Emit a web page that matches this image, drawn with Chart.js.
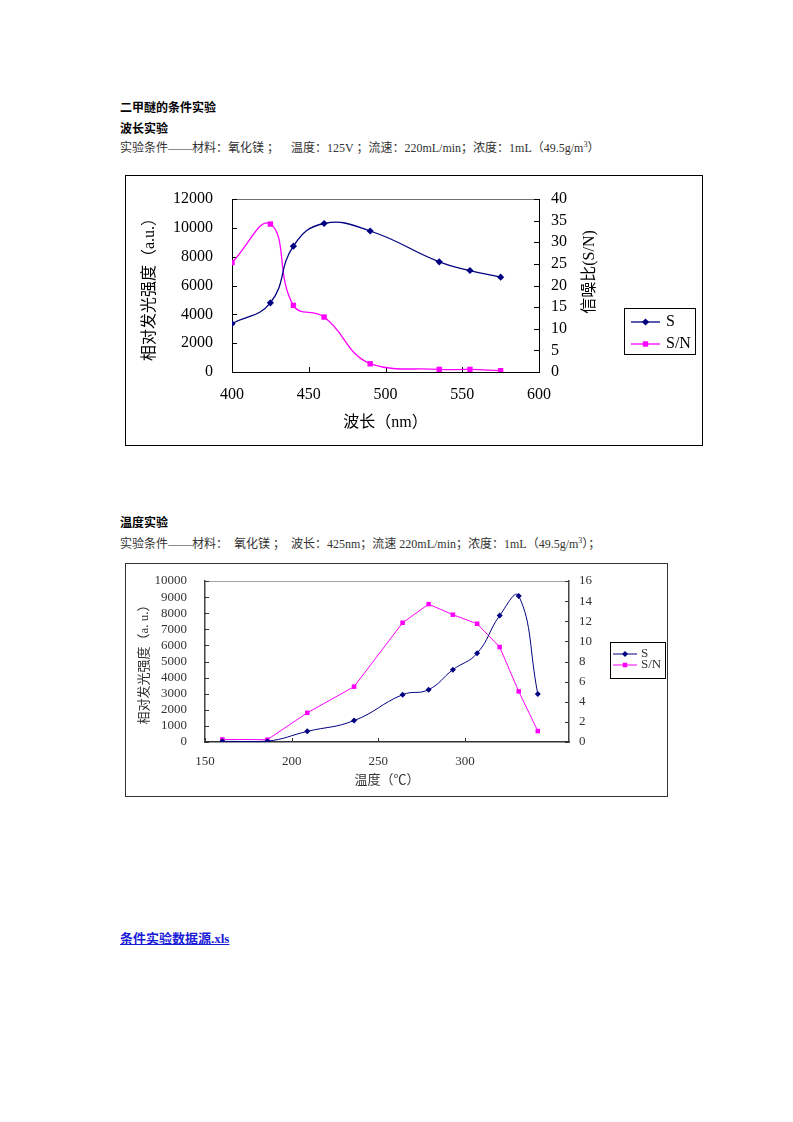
<!DOCTYPE html>
<html>
<head>
<meta charset="utf-8">
<script src="https://cdn.jsdelivr.net/npm/chart.js@4/dist/chart.umd.min.js"></script>
<style>
body { margin: 0; background: #fff; }
.page { position: relative; width: 793px; height: 1122px; font-family: "Liberation Serif", "Noto Sans CJK SC", serif; }
.t { position: absolute; left: 120px; font-size: 12px; line-height: 14px; white-space: nowrap; }
.b { font-weight: bold; color: #000; }
.c { color: #333; }
.t sup { font-size: 8px; line-height: 0; vertical-align: 5px; }
.box { position: absolute; border: 1px solid #000; }
.link { color: #1a1ad8; font-weight: bold; font-size: 13px; text-decoration: underline; }
canvas { display: block; }
</style>
</head>
<body>
<div class="page">
  <div class="t b" style="top:101px">二甲醚的条件实验</div>
  <div class="t b" style="top:122px">波长实验</div>
  <div class="t c" style="top:141px">实验条件——材料：氧化镁 ；&nbsp;&nbsp;&nbsp; 温度：125V ；流速：220mL/min；浓度：1mL（49.5g/m<sup>3</sup>）</div>

  <div class="box" style="left:125px; top:175px; width:576px; height:269px;">
    <canvas id="wlChart" width="576" height="269"></canvas>
  </div>

  <div class="t b" style="top:516px">温度实验</div>
  <div class="t c" style="top:537px">实验条件——材料：&nbsp; 氧化镁 ；&nbsp; 波长：425nm；流速 220mL/min；浓度：1mL（49.5g/m<sup>3</sup>）；</div>

  <div class="box" style="left:125px; top:563px; width:541px; height:232px; border-color:#333;">
    <canvas id="tempChart" width="541" height="232"></canvas>
  </div>

  <div class="t link" style="top:932px">条件实验数据源.xls</div>
</div>

<script>
// wavelength experiment
const wlX = [400, 425, 440, 460, 490, 535, 555, 575];
const wlS = [3350, 4800, 8730, 10300, 9780, 7640, 7040, 6580];
const wlSN = [25.3, 34.2, 15.4, 12.7, 1.9, 0.6, 0.6, 0.3];

// temperature experiment
const tempX = [160, 186, 209, 236, 264, 279, 293, 307, 320, 331, 342];
const tempS = [40, 50, 660, 1330, 2940, 3250, 4490, 5510, 7850, 9070, 2980];
const tempSN = [0.26, 0.23, 2.9, 5.5, 11.85, 13.7, 12.65, 11.75, 9.44, 5.03, 1.09];

const seriesNames = ['S', 'S/N'];

const SERIF = '"Liberation Serif", "Noto Sans CJK SC", serif';
const NAVY = '#000080';
const PINK = '#ff00ff';

function pts(xs, ys) {
    return xs.map((x, i) => ({ x: x, y: ys[i] }));
}

const plain = v => String(v);

// fixed axis width, and no extra top/bottom room for the labels
function fixWidth(w) {
    return s => { s.width = w; s.paddingTop = 0; s.paddingBottom = 0; };
}

function marker(ctx, style, r, x, y) {
    ctx.beginPath();
    if (style === 'rectRot') {
        ctx.moveTo(x, y - r); ctx.lineTo(x + r, y); ctx.lineTo(x, y + r); ctx.lineTo(x - r, y);
    } else {
        const s = r * Math.SQRT1_2;
        ctx.rect(x - s, y - s, 2 * s, 2 * s);
    }
    ctx.closePath();
    ctx.fill();
}

// tick marks pointing into the plot area, like the spreadsheet
const innerTicks = {
    id: 'innerTicks',
    beforeDatasetsDraw(chart, args, o) {
        const ctx = chart.ctx, a = chart.chartArea, len = o.len || 4;
        ctx.save();
        ctx.strokeStyle = o.color || '#000';
        ctx.lineWidth = 1;
        ctx.beginPath();
        const sx = chart.scales.x;
        sx.ticks.forEach(t => {
            const px = Math.round(sx.getPixelForValue(t.value)) + 0.5;
            ctx.moveTo(px, a.bottom); ctx.lineTo(px, a.bottom - len);
        });
        const sy = chart.scales.y;
        sy.ticks.forEach(t => {
            const py = Math.round(sy.getPixelForValue(t.value)) + 0.5;
            ctx.moveTo(a.left, py); ctx.lineTo(a.left + len, py);
        });
        const sy1 = chart.scales.y1;
        sy1.ticks.forEach(t => {
            const py = Math.round(sy1.getPixelForValue(t.value)) + 0.5;
            ctx.moveTo(a.right, py); ctx.lineTo(a.right - len, py);
        });
        ctx.stroke();
        ctx.restore();
    }
};

// boxed legend with line + marker samples
const boxLegend = {
    id: 'boxLegend',
    afterDraw(chart, args, o) {
        const ctx = chart.ctx;
        ctx.save();
        ctx.fillStyle = '#fff';
        ctx.fillRect(o.x, o.y, o.w, o.h);
        ctx.strokeStyle = '#000';
        ctx.lineWidth = 1;
        ctx.strokeRect(o.x + 0.5, o.y + 0.5, o.w, o.h);
        chart.data.datasets.forEach((ds, i) => {
            const y = o.rows[i];
            ctx.strokeStyle = ds.borderColor;
            ctx.lineWidth = ds.borderWidth;
            ctx.beginPath();
            ctx.moveTo(o.lineX, y); ctx.lineTo(o.lineX + o.lineW, y);
            ctx.stroke();
            ctx.fillStyle = ds.borderColor;
            marker(ctx, ds.pointStyle, ds.pointRadius, o.lineX + o.lineW / 2, y);
            ctx.fillStyle = o.textColor || '#000';
            ctx.font = o.font;
            ctx.textBaseline = 'middle';
            ctx.textAlign = 'left';
            ctx.fillText(ds.label, o.textX, y);
        });
        ctx.restore();
    }
};

// right axis title, reading bottom to top
const sideTitle = {
    id: 'sideTitle',
    afterDraw(chart, args, o) {
        if (!o.text) return;
        const ctx = chart.ctx;
        ctx.save();
        ctx.translate(o.x, o.y);
        ctx.rotate(-Math.PI / 2);
        ctx.font = o.font;
        ctx.fillStyle = '#000';
        ctx.textAlign = 'center';
        ctx.textBaseline = 'middle';
        ctx.fillText(o.text, 0, 0);
        ctx.restore();
    }
};

// Wavelength chart
new Chart(document.getElementById('wlChart').getContext('2d'), {
    type: 'line',
    data: {
        datasets: [{
            label: seriesNames[0],
            data: pts(wlX, wlS),
            yAxisID: 'y',
            borderColor: NAVY,
            backgroundColor: NAVY,
            borderWidth: 1.3,
            pointStyle: 'rectRot',
            pointRadius: 3.6,
            pointBorderWidth: 0,
            tension: 0.45
        }, {
            label: seriesNames[1],
            data: pts(wlX, wlSN),
            yAxisID: 'y1',
            borderColor: PINK,
            backgroundColor: PINK,
            borderWidth: 1.3,
            pointStyle: 'rect',
            pointRadius: 3.8,
            pointBorderWidth: 0,
            tension: 0.45
        }]
    },
    options: {
        responsive: false,
        animation: false,
        layout: { padding: { left: 10, right: 93, top: 23, bottom: 9 } },
        plugins: {
            legend: { display: false },
            tooltip: { enabled: false },
            innerTicks: { len: 5, color: '#000' },
            boxLegend: {
                x: 498, y: 132, w: 71, h: 46,
                rows: [146, 168],
                lineX: 505, lineW: 29, textX: 540,
                font: '16px ' + SERIF
            },
            sideTitle: { text: '信噪比(S/N)', x: 464, y: 96, font: '16px ' + SERIF }
        },
        scales: {
            x: {
                type: 'linear',
                min: 400, max: 600,
                ticks: { stepSize: 50, autoSkip: false, callback: plain, color: '#000', font: { family: SERIF, size: 16 }, padding: 13 },
                grid: { drawOnChartArea: false, drawTicks: false },
                border: { color: '#000', width: 1 },
                title: { display: true, text: '波长（nm）', color: '#000', font: { family: SERIF, size: 16 } },
                afterFit: s => { s.height = 64; }
            },
            y: {
                position: 'left',
                min: 0, max: 12000,
                ticks: { stepSize: 2000, autoSkip: false, callback: plain, color: '#000', font: { family: SERIF, size: 16 }, padding: 19 },
                grid: {
                    drawTicks: false,
                    color: c => (c.tick && c.tick.value === 12000) ? '#707070' : 'rgba(0,0,0,0)'
                },
                border: { color: '#000', width: 1 },
                title: { display: true, text: '相对发光强度（a.u.）', color: '#000', font: { family: SERIF, size: 16 } },
                afterFit: fixWidth(96)
            },
            y1: {
                position: 'right',
                min: 0, max: 40,
                ticks: { stepSize: 5, autoSkip: false, callback: plain, color: '#000', font: { family: SERIF, size: 16 }, padding: 12 },
                grid: { drawOnChartArea: false, drawTicks: false },
                border: { color: '#000', width: 1 },
                afterFit: fixWidth(70)
            }
        }
    },
    plugins: [innerTicks, boxLegend, sideTitle]
});

// Temperature chart
new Chart(document.getElementById('tempChart').getContext('2d'), {
    type: 'line',
    data: {
        datasets: [{
            label: seriesNames[0],
            data: pts(tempX, tempS),
            yAxisID: 'y',
            borderColor: NAVY,
            backgroundColor: NAVY,
            borderWidth: 1,
            pointStyle: 'rectRot',
            pointRadius: 3,
            pointBorderWidth: 0,
            tension: 0.45
        }, {
            label: seriesNames[1],
            data: pts(tempX, tempSN),
            yAxisID: 'y1',
            borderColor: PINK,
            backgroundColor: PINK,
            borderWidth: 1,
            pointStyle: 'rect',
            pointRadius: 3.2,
            pointBorderWidth: 0,
            tension: 0
        }]
    },
    options: {
        responsive: false,
        animation: false,
        layout: { padding: { left: 7, right: 68, top: 17, bottom: 4 } },
        plugins: {
            legend: { display: false },
            tooltip: { enabled: false },
            innerTicks: { len: 4, color: '#333' },
            boxLegend: {
                x: 484, y: 78, w: 55, h: 36,
                rows: [90, 101],
                lineX: 487, lineW: 24, textX: 515,
                font: '13px ' + SERIF,
                textColor: '#333'
            },
            sideTitle: { text: '' }
        },
        scales: {
            x: {
                type: 'linear',
                min: 150, max: 360,
                ticks: { stepSize: 50, autoSkip: false, callback: plain, color: '#333', font: { family: SERIF, size: 13 }, padding: 12 },
                afterBuildTicks: s => { s.ticks = s.ticks.filter(t => t.value % 50 === 0); },
                grid: { drawOnChartArea: false, drawTicks: false },
                border: { color: '#333', width: 1.5 },
                title: { display: true, text: '温度（℃）', color: '#333', font: { family: SERIF, size: 13 } },
                afterFit: s => { s.height = 50; }
            },
            y: {
                position: 'left',
                min: 0, max: 10000,
                ticks: { stepSize: 1000, autoSkip: false, callback: plain, color: '#333', font: { family: SERIF, size: 13 }, padding: 18 },
                grid: {
                    drawTicks: false,
                    color: c => (c.tick && c.tick.value === 10000) ? '#a0a0a0' : 'rgba(0,0,0,0)'
                },
                border: { color: '#444', width: 1.5 },
                title: { display: true, text: '相对发光强度（a. u.）', color: '#333', font: { family: SERIF, size: 13 } },
                afterFit: fixWidth(72)
            },
            y1: {
                position: 'right',
                min: 0, max: 16,
                ticks: { stepSize: 2, autoSkip: false, callback: plain, color: '#333', font: { family: SERIF, size: 13 }, padding: 10 },
                grid: { drawOnChartArea: false, drawTicks: false },
                border: { color: '#444', width: 1.5 },
                afterFit: fixWidth(30)
            }
        }
    },
    plugins: [innerTicks, boxLegend, sideTitle]
});
</script>
</body>
</html>
